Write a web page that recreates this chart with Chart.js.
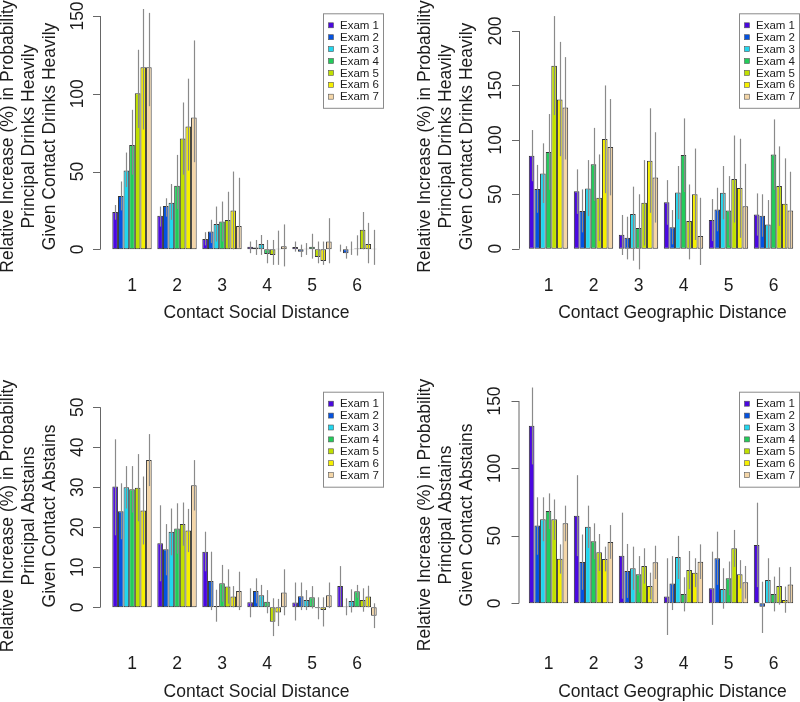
<!DOCTYPE html>
<html>
<head>
<meta charset="utf-8">
<script src="https://cdn.jsdelivr.net/npm/chart.js@4.4.0/dist/chart.umd.min.js"></script>
<style>
  html, body { margin: 0; padding: 0; background: #fff; }
  #wrap { position: relative; width: 800px; height: 702px; overflow: hidden; }
  canvas { position: absolute; }
</style>
</head>
<body>
<div id="wrap">
  <canvas id="socialDrink" width="400" height="351" style="left:0;top:0"></canvas>
  <canvas id="geoDrink" width="400" height="351" style="left:400px;top:0"></canvas>
  <canvas id="socialAbst" width="400" height="351" style="left:0;top:351px"></canvas>
  <canvas id="geoAbst" width="400" height="351" style="left:400px;top:351px"></canvas>
</div>
<script>
const distances = ['1', '2', '3', '4', '5', '6'];
const exams = ['Exam 1', 'Exam 2', 'Exam 3', 'Exam 4', 'Exam 5', 'Exam 6', 'Exam 7'];
const examColors = ['#4A08E0', '#0452E0', '#22D6EE', '#22CC5A', '#C0E000', '#F6F000', '#F4D6A8'];

// one row per exam, one value per distance
const socialDrinkVals = [
  [24, 21.5, 6.7, 1.7, 1.5, 0],
  [34.3, 27.9, 11.4, 1.1, -1.5, -2.6],
  [50.6, 30, 16.3, 3.4, 0.3, 0.2],
  [67, 40.8, 17.8, -3, 1.7, 0.5],
  [100.4, 71.2, 18.9, -3.6, -5, 12.5],
  [117, 79, 24.9, 0.3, -7.5, 3.4],
  [117, 84.8, 15, 2, 5, 0.3]
];
const socialDrinkHi = [
  [28.5, 27.5, 11, 5, 5, 3],
  [43.6, 32.8, 19, 6, 3, 2],
  [62.2, 42, 27.5, 9.2, 4, 5],
  [89.7, 60.7, 30.7, 6, 10, 9],
  [128.3, 94.4, 37, 6, 5, 24],
  [154.5, 109.7, 50, 12, 5, 17],
  [152, 134.3, 46, 16, 20, 12.5]
];
const socialDrinkLo = [
  [19, 14.6, 2.5, -2.5, -1.5, -1.5],
  [25, 21, 4, -3.6, -5, -6],
  [40, 19, 5, -3.6, -3.6, -3.6],
  [48, 26, 5, -9, -6, -4],
  [78, 48, 1, -10, -9, 0],
  [77, 50.6, 0, -10, -10, -9],
  [92, 56, 1, -11, -9, -10]
];
const socialDrinkTicks = [0, 50, 100, 150];

const geoDrinkVals = [
  [85.4, 52.7, 12.9, 42.6, 26.3, 31.5],
  [54.8, 34.6, 10, 19.6, 36, 30.3],
  [69.2, 55.4, 31.8, 51.7, 51.4, 22.3],
  [88.8, 77.5, 19, 86, 35, 86.6],
  [168, 46.8, 42.3, 25.4, 64, 57.6],
  [137, 100.7, 80.8, 50, 55.7, 41.3],
  [129.8, 93.4, 65.5, 11.6, 39, 35.2]
];
const geoDrinkHi = [
  [109, 72.9, 31, 63, 45.6, 50.8],
  [77, 54.5, 29.4, 35.5, 56, 50],
  [96.8, 81.4, 57, 76, 76, 44.7],
  [123.7, 111, 50, 119.7, 66.7, 118.8],
  [213.7, 86.6, 81.4, 59, 104, 94],
  [190, 150, 129, 92, 101, 83],
  [176, 137.5, 107, 46.8, 78, 70.7]
];
const geoDrinkLo = [
  [62, 32, -5.8, 22, 7, 12],
  [33, 15, -9.8, 4, 16, 11],
  [42, 30, -11, 27, 27, 0],
  [54, 44, -19, 52, 3, 54],
  [122.8, 7, 3, -9.8, 24, 21],
  [85, 51, 33, 8, 10, 0],
  [82, 49, 24, -15, 0, 0]
];
const geoDrinkTicks = [0, 50, 100, 150, 200];

const socialAbstVals = [
  [30.2, 16, 13.9, 1.25, 1.2, 5.3],
  [24, 14.5, 6.6, 4.1, 2.75, 0.2],
  [30, 18.9, 0.3, 3, 1.8, 1.6],
  [29.5, 19.7, 6, 1.4, 2.5, 4],
  [29.9, 20.8, 5.2, -3.6, -0.25, 1.8],
  [24.2, 19.2, 2.7, -1.3, -0.7, 2.7],
  [36.8, 30.5, 4.1, 3.7, 3, -2.1]
];
const socialAbstHi = [
  [42, 25.5, 18.9, 4.75, 6.2, 10.3],
  [31, 20.8, 13.9, 7.25, 6.2, 2.25],
  [35.3, 24.7, 4.4, 5.6, 4.3, 4.5],
  [35.3, 26, 10.6, 4.3, 5.3, 5.6],
  [38.3, 26.2, 9.5, 2.25, 2.5, 4.75],
  [32.7, 24.6, 5.3, 2.1, 2.5, 5.4],
  [43.3, 36.8, 8.9, 9.5, 6.2, 1]
];
const socialAbstLo = [
  [18, 6.5, 9, -2.5, -3.3, 0.3],
  [17, 8, -0.7, 1, -0.7, -2],
  [24.7, 13, -3.6, 0.4, -0.7, -1.3],
  [23.7, 13.4, 1.4, -1.5, -0.3, 2.4],
  [21.5, 15.4, 0.9, -7.2, -3, -1.1],
  [15.7, 13.8, 0, -4.7, -4.8, 0],
  [30.3, 24.2, -0.7, -2, -0.2, -5.2]
];
const socialAbstTicks = [0, 10, 20, 30, 40, 50];

const geoAbstVals = [
  [131.7, 65, 35.3, 5, 11.1, 43.2],
  [57.6, 30.6, 24, 14.6, 33.4, -2.5],
  [62.3, 56.8, 26, 34.3, 10.6, 17.3],
  [68.4, 46, 21.5, 6.9, 18.5, 6.9],
  [62.3, 37.8, 27.7, 24.7, 40.8, 12.8],
  [33, 32.9, 12.8, 22.7, 21.5, 2.5],
  [59.3, 45.5, 30.4, 30.9, 15.6, 14]
];
const geoAbstHi = [
  [160, 95, 67.2, 33.4, 38.3, 74.6],
  [78.6, 51, 44, 35, 53.1, 16],
  [78.6, 72.4, 42, 50, 26, 33.4],
  [81.5, 59.3, 35, 19.3, 31, 19.8],
  [77, 51.4, 40.8, 38.8, 54.4, 26.7],
  [43.7, 42, 22.7, 33.4, 32, 12.4],
  [72.4, 58, 42.7, 43.7, 27.7, 27]
];
const geoAbstLo = [
  [103, 35, 3.4, -23.5, -16, 12],
  [36, 10, 4, -5, 13.7, -22],
  [46, 41, 10, 18, -4, 1],
  [55, 32.7, 8, -6, 6, -6],
  [47, 24, 14.6, 10.6, 27, -1],
  [22, 23.7, 3, 12, 11, -7],
  [46, 33, 18, 18, 3.5, 1]
];
const geoAbstTicks = [0, 50, 100, 150];

const FONT = '"Liberation Sans", Arial, Helvetica, sans-serif';
const TEXT = '#1c1c1c';

// R-like extras: axis with rotated labels, error bars, boxed legend, x title
const rStyle = {
  id: 'rStyle',
  afterDatasetsDraw(chart) {
    const ctx = chart.ctx;
    const y = chart.scales.y;
    ctx.save();
    ctx.strokeStyle = '#8a8a8a';
    ctx.lineWidth = 1.2;
    chart.data.datasets.forEach((ds, d) => {
      const meta = chart.getDatasetMeta(d);
      meta.data.forEach((bar, i) => {
        const x = Math.round(bar.x) + 0.5;
        ctx.beginPath();
        ctx.moveTo(x, y.getPixelForValue(ds.errLo[i]));
        ctx.lineTo(x, y.getPixelForValue(ds.errHi[i]));
        ctx.stroke();
      });
    });
    ctx.restore();
  },
  afterDraw(chart, args, o) {
    const ctx = chart.ctx;
    const y = chart.scales.y;
    ctx.save();
    // y axis
    const ax = o.axisX + 0.5;
    ctx.strokeStyle = '#666';
    ctx.lineWidth = 1;
    ctx.beginPath();
    ctx.moveTo(ax, y.getPixelForValue(o.ticks[0]));
    ctx.lineTo(ax, y.getPixelForValue(o.ticks[o.ticks.length - 1]));
    o.ticks.forEach(t => {
      const py = Math.round(y.getPixelForValue(t)) + 0.5;
      ctx.moveTo(ax, py);
      ctx.lineTo(ax - 7.5, py);
    });
    ctx.stroke();
    ctx.fillStyle = TEXT;
    ctx.font = '17.5px ' + FONT;
    ctx.textAlign = 'center';
    ctx.textBaseline = 'middle';
    o.ticks.forEach(t => {
      ctx.save();
      ctx.translate(o.labelX, y.getPixelForValue(t));
      ctx.rotate(-Math.PI / 2);
      ctx.fillText(String(t), 0, 0);
      ctx.restore();
    });
    // x title
    ctx.fillText(o.xTitle, o.xTitleX, o.xTitleY);
    // legend
    const L = o.legend;
    ctx.strokeStyle = '#8a8a8a';
    ctx.strokeRect(L.x + 0.5, L.y + 0.5, L.w, L.h);
    ctx.font = '11.5px ' + FONT;
    ctx.textAlign = 'left';
    chart.data.datasets.forEach((ds, d) => {
      const ry = L.y + 12 + d * 11.9;
      ctx.fillStyle = ds.backgroundColor;
      ctx.fillRect(L.x + 5.5, ry - 2.5, 5, 5);
      ctx.strokeStyle = '#555';
      ctx.lineWidth = 0.6;
      ctx.strokeRect(L.x + 5.5, ry - 2.5, 5, 5);
      ctx.fillStyle = TEXT;
      ctx.fillText(ds.label, L.x + 17, ry + 0.5);
    });
    ctx.restore();
  }
};

function makePanel(id, spec, vals, lo, hi, ticks, xTitle, yTitle) {
  const ppu = (spec.zeroY - spec.tickY) / spec.tickV;
  const yMax = (spec.zeroY - spec.top) / ppu;
  const yMin = -(spec.bottom - spec.zeroY) / ppu;
  new Chart(document.getElementById(id), {
    type: 'bar',
    data: {
      labels: distances,
      datasets: exams.map((name, d) => ({
        label: name,
        data: vals[d],
        errLo: lo[d],
        errHi: hi[d],
        backgroundColor: examColors[d],
        borderColor: '#333',
        borderWidth: 1,
        borderSkipped: false,
        categoryPercentage: 0.875,
        barPercentage: 1
      }))
    },
    options: {
      responsive: false,
      animation: false,
      events: [],
      layout: { padding: { left: 0, top: spec.top, right: 400 - spec.right, bottom: 0 } },
      scales: {
        x: {
          grid: { display: false, drawTicks: false },
          border: { display: false },
          ticks: { color: TEXT, font: { size: 17.5, family: FONT }, padding: 8 },
          afterFit: s => { s.height = 351 - spec.bottom; }
        },
        y: {
          min: yMin,
          max: yMax,
          grid: { display: false, drawTicks: false },
          border: { display: false },
          ticks: { display: false },
          title: {
            display: true,
            text: yTitle,
            color: TEXT,
            font: { size: 17.5, family: FONT, lineHeight: 1.2 },
            padding: { top: spec.yTitleX - 10.5, bottom: 0 }
          },
          afterFit: s => { s.width = spec.left; }
        }
      },
      plugins: {
        legend: { display: false },
        tooltip: { enabled: false },
        rStyle: {
          ticks: ticks,
          axisX: spec.axisX,
          labelX: spec.labelX,
          xTitle: xTitle,
          xTitleX: spec.xTitleX,
          xTitleY: spec.xTitleY,
          legend: spec.legend
        }
      }
    },
    plugins: [rStyle]
  });
}

const drinkTitle = ['Relative Increase (%) in Probability', 'Principal Drinks Heavily', 'Given Contact Drinks Heavily'];
const abstTitle = ['Relative Increase (%) in Probability', 'Principal Abstains', 'Given Contact Abstains'];

makePanel('socialDrink',
  { left: 109.5, right: 379.5, top: 5, bottom: 268, zeroY: 249.3, tickY: 16, tickV: 150,
    axisX: 100, labelX: 78, yTitleX: 8, xTitleX: 256.5, xTitleY: 313,
    legend: { x: 323, y: 13.3, w: 60, h: 94.5 } },
  socialDrinkVals, socialDrinkLo, socialDrinkHi, socialDrinkTicks, 'Contact Social Distance', drinkTitle);

makePanel('geoDrink',
  { left: 126, right: 396, top: 5, bottom: 268, zeroY: 248.7, tickY: 31, tickV: 200,
    axisX: 119, labelX: 96, yTitleX: 25, xTitleX: 272.5, xTitleY: 313,
    legend: { x: 339, y: 13.3, w: 60, h: 94.5 } },
  geoDrinkVals, geoDrinkLo, geoDrinkHi, geoDrinkTicks, 'Contact Geographic Distance', drinkTitle);

makePanel('socialAbst',
  { left: 109.5, right: 379.5, top: 35, bottom: 295, zeroY: 256.3, tickY: 56.3, tickV: 50,
    axisX: 100, labelX: 78.5, yTitleX: 8, xTitleX: 256.5, xTitleY: 341,
    legend: { x: 323, y: 40.7, w: 60, h: 95 } },
  socialAbstVals, socialAbstLo, socialAbstHi, socialAbstTicks, 'Contact Social Distance', abstTitle);

makePanel('geoAbst',
  { left: 126, right: 396, top: 33, bottom: 295, zeroY: 252.3, tickY: 50, tickV: 150,
    axisX: 118.5, labelX: 95.5, yTitleX: 25, xTitleX: 272.5, xTitleY: 341,
    legend: { x: 339, y: 40.7, w: 60, h: 95 } },
  geoAbstVals, geoAbstLo, geoAbstHi, geoAbstTicks, 'Contact Geographic Distance', abstTitle);
</script>
</body>
</html>
